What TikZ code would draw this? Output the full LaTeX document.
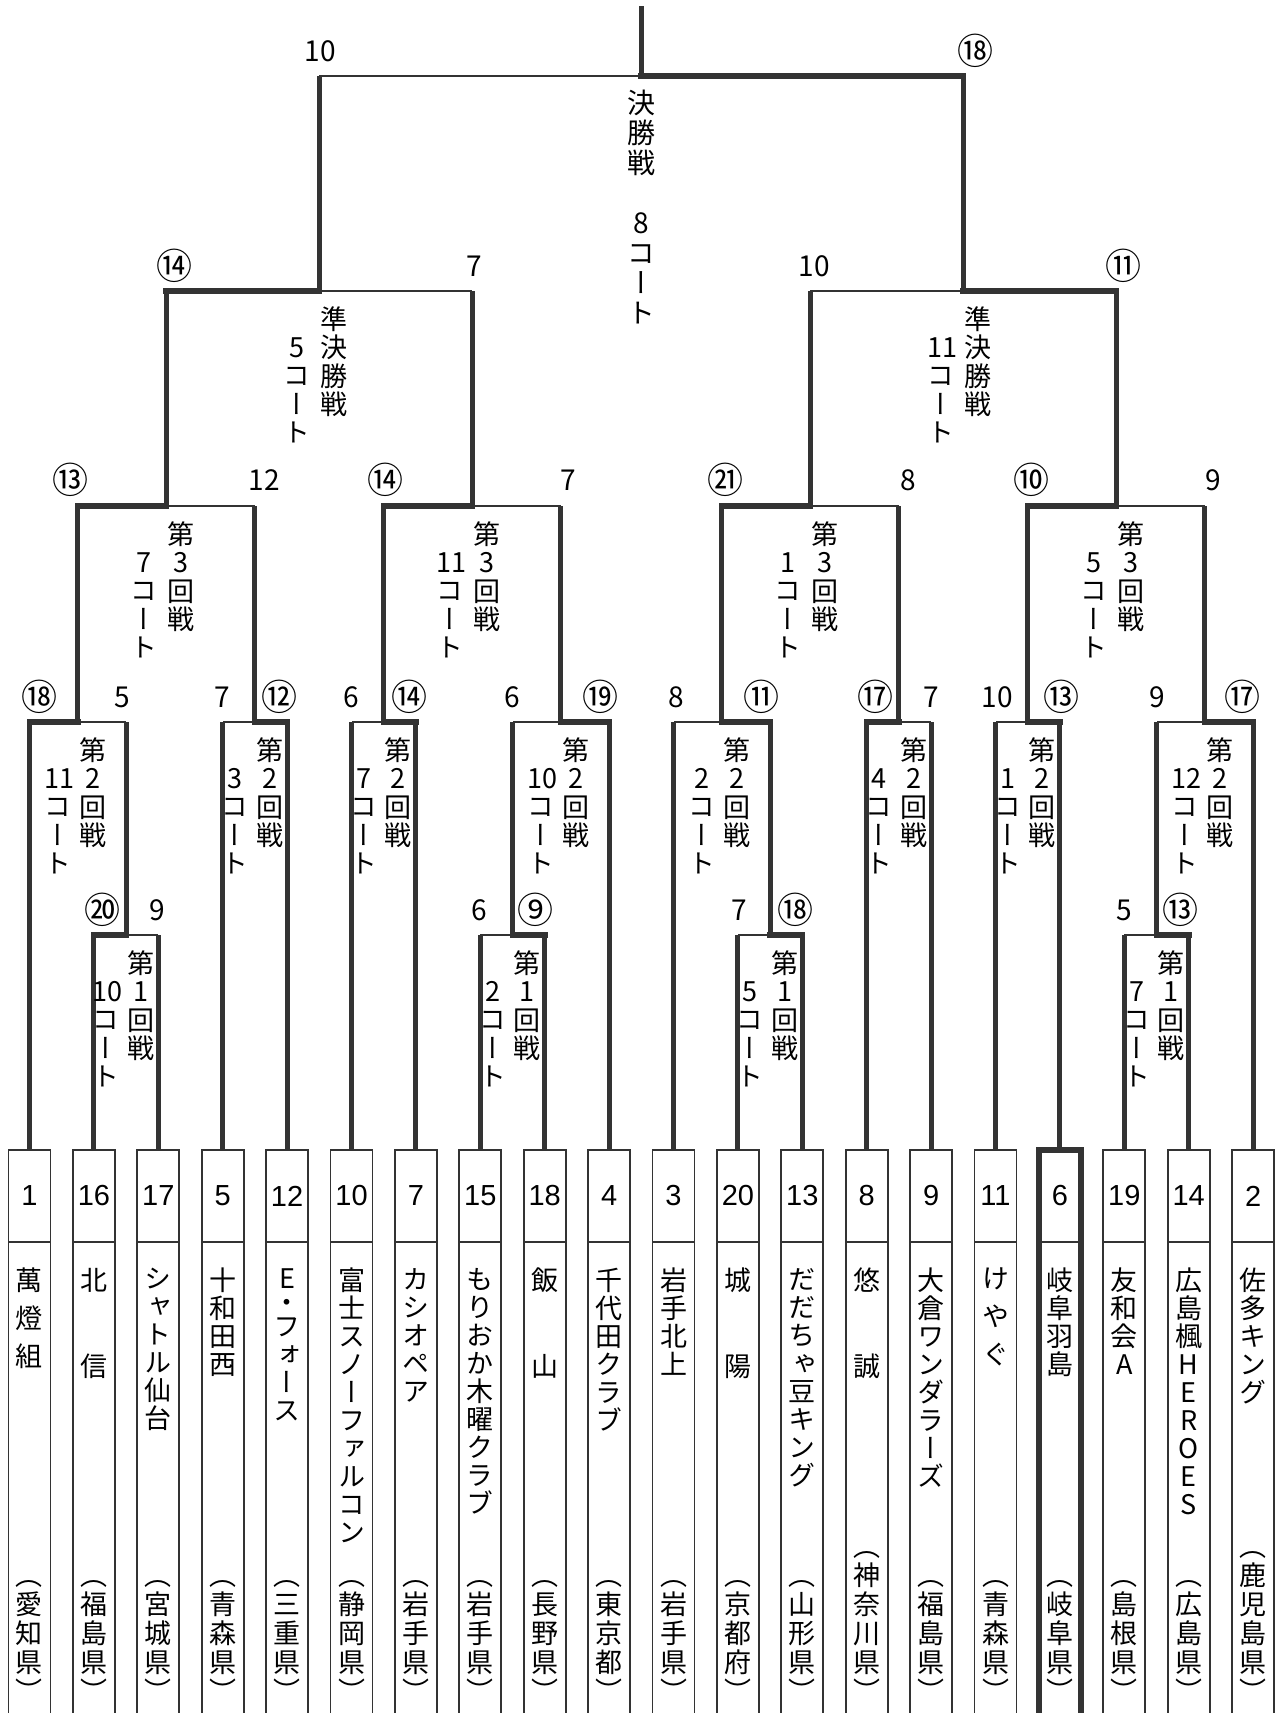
\documentclass[tikz,border=0pt]{standalone}
\usepackage{fontspec}
\usepackage{xcolor}
\usepackage{tikz}
\usetikzlibrary{positioning}

\newfontfamily\jpfont[Script=CJK,RawFeature=+vert]{Noto Sans CJK JP}
\newfontfamily\numfont{Liberation Sans}
\definecolor{ink}{HTML}{333333}

\begin{document}
\begin{tikzpicture}[
		x=1pt, y=-1pt,
		vbar/.style={draw=ink, line width=5pt},
		winbar/.style={draw=ink, line width=6pt, line cap=rect},
		losebar/.style={draw=ink, line width=2pt},
		numcell/.style={
			draw=ink,
			line width=1.8pt,
			outer sep=0pt,
			inner sep=0pt,
			anchor=north,
			minimum width=42pt,
			minimum height=92pt,
			font=\numfont\fontsize{29}{29}\selectfont
		},
		namecell/.style={
			draw=ink,
			line width=1.8pt,
			outer sep=0pt,
			inner sep=0pt,
			minimum width=42pt,
			minimum height=474pt
		},
		champ/.style={draw=ink, line width=6pt},
		teamname/.style={
			align=center,
			text width=30pt,
			inner sep=0pt,
			font=\jpfont\fontsize{27}{28}\selectfont
		},
		pref/.style={
			align=center,
			text width=30pt,
			inner sep=0pt,
			font=\jpfont\fontsize{27}{29}\selectfont
		},
		roundcol/.style={
			align=center,
			text width=27pt,
			inner sep=0pt,
			font=\jpfont\fontsize{27}{28.5}\selectfont
		},
		finalcol/.style={
			align=center,
			text width=30pt,
			inner sep=0pt,
			font=\jpfont\fontsize{28}{30}\selectfont
		},
		score/.style={inner sep=0pt, font=\jpfont\fontsize{28}{28}\selectfont},
		winscore/.style={inner sep=0pt, font=\jpfont\fontsize{36}{36}\selectfont}
		]
		
		\fill[white] (0,0) rectangle (1282,1713);
		\useasboundingbox (0,0) rectangle (1282,1713);
		
		% Team boxes: draw number
		\node[numcell] (num1) at (29.5,1150) {1};
		\node[numcell] (num2) at (93.9,1150) {16};
		\node[numcell] (num3) at (158.3,1150) {17};
		\node[numcell] (num4) at (222.7,1150) {5};
		\node[numcell] (num5) at (287.1,1150) {12};
		\node[numcell] (num6) at (351.5,1150) {10};
		\node[numcell] (num7) at (415.9,1150) {7};
		\node[numcell] (num8) at (480.3,1150) {15};
		\node[numcell] (num9) at (544.7,1150) {18};
		\node[numcell] (num10) at (609.1,1150) {4};
		\node[numcell] (num11) at (673.5,1150) {3};
		\node[numcell] (num12) at (737.9,1150) {20};
		\node[numcell] (num13) at (802.3,1150) {13};
		\node[numcell] (num14) at (866.7,1150) {8};
		\node[numcell] (num15) at (931.1,1150) {9};
		\node[numcell] (num16) at (995.5,1150) {11};
		\node[numcell] (num17) at (1059.9,1150) {6};
		\node[numcell] (num18) at (1124.3,1150) {19};
		\node[numcell] (num19) at (1188.7,1150) {14};
		\node[numcell] (num20) at (1253.1,1150) {2};
		
		% Team boxes: name part
		\node[namecell, below=0pt of num1] (cell1) {};
		\node[namecell, below=0pt of num2] (cell2) {};
		\node[namecell, below=0pt of num3] (cell3) {};
		\node[namecell, below=0pt of num4] (cell4) {};
		\node[namecell, below=0pt of num5] (cell5) {};
		\node[namecell, below=0pt of num6] (cell6) {};
		\node[namecell, below=0pt of num7] (cell7) {};
		\node[namecell, below=0pt of num8] (cell8) {};
		\node[namecell, below=0pt of num9] (cell9) {};
		\node[namecell, below=0pt of num10] (cell10) {};
		\node[namecell, below=0pt of num11] (cell11) {};
		\node[namecell, below=0pt of num12] (cell12) {};
		\node[namecell, below=0pt of num13] (cell13) {};
		\node[namecell, below=0pt of num14] (cell14) {};
		\node[namecell, below=0pt of num15] (cell15) {};
		\node[namecell, below=0pt of num16] (cell16) {};
		\node[namecell, below=0pt of num17] (cell17) {};
		\node[namecell, below=0pt of num18] (cell18) {};
		\node[namecell, below=0pt of num19] (cell19) {};
		\node[namecell, below=0pt of num20] (cell20) {};
		
		% Champion
		\draw[champ] (num17.north west) rectangle (cell17.south east);
		
		% Team names
		\node[teamname, below=26pt of num1] (name1) {萬\\[10pt]燈\\[10pt]組};
		\node[teamname, below=26pt of num2] (name2) {北\\[58pt]信};
		\node[teamname, below=26pt of num3] (name3) {シ\\ャ\\ト\\ル\\仙\\台};
		\node[teamname, below=26pt of num4] (name4) {十\\和\\田\\西};
		\node[teamname, below=26pt of num5] (name5) {E\\[-4pt]・\\[-4pt]フ\\ォ\\ー\\ス};
		\node[teamname, below=26pt of num6] (name6) {富\\士\\ス\\ノ\\ー\\フ\\ァ\\ル\\コ\\ン};
		\node[teamname, below=26pt of num7] (name7) {カ\\シ\\オ\\ペ\\ア};
		\node[teamname, below=26pt of num8] (name8) {も\\り\\お\\か\\木\\曜\\ク\\ラ\\ブ};
		\node[teamname, below=26pt of num9] (name9) {飯\\[58pt]山};
		\node[teamname, below=26pt of num10] (name10) {千\\代\\田\\ク\\ラ\\ブ};
		\node[teamname, below=26pt of num11] (name11) {岩\\手\\北\\上};
		\node[teamname, below=26pt of num12] (name12) {城\\[58pt]陽};
		\node[teamname, below=26pt of num13] (name13) {だ\\だ\\ち\\ゃ\\豆\\キ\\ン\\グ};
		\node[teamname, below=26pt of num14] (name14) {悠\\[58pt]誠};
		\node[teamname, below=26pt of num15] (name15) {大\\倉\\ワ\\ン\\ダ\\ラ\\ー\\ズ};
		\node[teamname, below=26pt of num16] (name16) {け\\[10pt]や\\[10pt]ぐ};
		\node[teamname, below=26pt of num17] (name17) {岐\\阜\\羽\\島};
		\node[teamname, below=26pt of num18] (name18) {友\\和\\会\\A};
		\node[teamname, below=26pt of num19] (name19) {広\\島\\楓\\H\\E\\R\\O\\E\\S};
		\node[teamname, below=26pt of num20] (name20) {佐\\多\\キ\\ン\\グ};
		
		% Prefectures
		\node[pref, above=14pt of cell1.south] (pref1) {（\\愛\\知\\県\\）};
		\node[pref, above=14pt of cell2.south] (pref2) {（\\福\\島\\県\\）};
		\node[pref, above=14pt of cell3.south] (pref3) {（\\宮\\城\\県\\）};
		\node[pref, above=14pt of cell4.south] (pref4) {（\\青\\森\\県\\）};
		\node[pref, above=14pt of cell5.south] (pref5) {（\\三\\重\\県\\）};
		\node[pref, above=14pt of cell6.south] (pref6) {（\\静\\岡\\県\\）};
		\node[pref, above=14pt of cell7.south] (pref7) {（\\岩\\手\\県\\）};
		\node[pref, above=14pt of cell8.south] (pref8) {（\\岩\\手\\県\\）};
		\node[pref, above=14pt of cell9.south] (pref9) {（\\長\\野\\県\\）};
		\node[pref, above=14pt of cell10.south] (pref10) {（\\東\\京\\都\\）};
		\node[pref, above=14pt of cell11.south] (pref11) {（\\岩\\手\\県\\）};
		\node[pref, above=14pt of cell12.south] (pref12) {（\\京\\都\\府\\）};
		\node[pref, above=14pt of cell13.south] (pref13) {（\\山\\形\\県\\）};
		\node[pref, above=14pt of cell14.south] (pref14) {（\\神\\奈\\川\\県\\）};
		\node[pref, above=14pt of cell15.south] (pref15) {（\\福\\島\\県\\）};
		\node[pref, above=14pt of cell16.south] (pref16) {（\\青\\森\\県\\）};
		\node[pref, above=14pt of cell17.south] (pref17) {（\\岐\\阜\\県\\）};
		\node[pref, above=14pt of cell18.south] (pref18) {（\\島\\根\\県\\）};
		\node[pref, above=14pt of cell19.south] (pref19) {（\\広\\島\\県\\）};
		\node[pref, above=14pt of cell20.south] (pref20) {（\\鹿\\児\\島\\県\\）};
		
		% Match points
		\coordinate (p1) at (126.1,935);
		\coordinate (p2) at (512.5,935);
		\coordinate (p3) at (770.1,935);
		\coordinate (p4) at (1156.5,935);
		\coordinate (s1) at (77.8,722);
		\coordinate (s2) at (254.9,722);
		\coordinate (s3) at (383.7,722);
		\coordinate (s4) at (560.8,722);
		\coordinate (s5) at (721.8,722);
		\coordinate (s6) at (898.9,722);
		\coordinate (s7) at (1027.7,722);
		\coordinate (s8) at (1204.8,722);
		\coordinate (q1) at (166.35,506);
		\coordinate (q2) at (472.25,506);
		\coordinate (q3) at (810.35,506);
		\coordinate (q4) at (1116.25,506);
		\coordinate (sl) at (319.3,291);
		\coordinate (sr) at (963.3,291);
		\coordinate (f) at (641.3,76);
		\coordinate (top) at (641.3,6);
		
		% First round
		\draw[losebar] (p1) -- (num3 |- p1);
		\draw[vbar] (num2) -- (num2 |- p1);
		\draw[vbar] (num3) -- (num3 |- p1);
		\draw[winbar] (p1) -- (num2 |- p1);
		
		\draw[losebar] (p2) -- (num8 |- p2);
		\draw[vbar] (num8) -- (num8 |- p2);
		\draw[vbar] (num9) -- (num9 |- p2);
		\draw[winbar] (p2) -- (num9 |- p2);
		
		\draw[losebar] (p3) -- (num12 |- p3);
		\draw[vbar] (num12) -- (num12 |- p3);
		\draw[vbar] (num13) -- (num13 |- p3);
		\draw[winbar] (p3) -- (num13 |- p3);
		
		\draw[losebar] (p4) -- (num18 |- p4);
		\draw[vbar] (num18) -- (num18 |- p4);
		\draw[vbar] (num19) -- (num19 |- p4);
		\draw[winbar] (p4) -- (num19 |- p4);
		
		% Second round
		\draw[losebar] (s1) -- (p1 |- s1);
		\draw[vbar] (num1) -- (num1 |- s1);
		\draw[vbar] (p1) -- (p1 |- s1);
		\draw[winbar] (s1) -- (num1 |- s1);
		
		\draw[losebar] (s2) -- (num4 |- s2);
		\draw[vbar] (num4) -- (num4 |- s2);
		\draw[vbar] (num5) -- (num5 |- s2);
		\draw[winbar] (s2) -- (num5 |- s2);
		
		\draw[losebar] (s3) -- (num6 |- s3);
		\draw[vbar] (num6) -- (num6 |- s3);
		\draw[vbar] (num7) -- (num7 |- s3);
		\draw[winbar] (s3) -- (num7 |- s3);
		
		\draw[losebar] (s4) -- (p2 |- s4);
		\draw[vbar] (p2) -- (p2 |- s4);
		\draw[vbar] (num10) -- (num10 |- s4);
		\draw[winbar] (s4) -- (num10 |- s4);
		
		\draw[losebar] (s5) -- (num11 |- s5);
		\draw[vbar] (num11) -- (num11 |- s5);
		\draw[vbar] (p3) -- (p3 |- s5);
		\draw[winbar] (s5) -- (p3 |- s5);
		
		\draw[losebar] (s6) -- (num15 |- s6);
		\draw[vbar] (num14) -- (num14 |- s6);
		\draw[vbar] (num15) -- (num15 |- s6);
		\draw[winbar] (s6) -- (num14 |- s6);
		
		\draw[losebar] (s7) -- (num16 |- s7);
		\draw[vbar] (num16) -- (num16 |- s7);
		\draw[vbar] (num17) -- (num17 |- s7);
		\draw[winbar] (s7) -- (num17 |- s7);
		
		\draw[losebar] (s8) -- (p4 |- s8);
		\draw[vbar] (p4) -- (p4 |- s8);
		\draw[vbar] (num20) -- (num20 |- s8);
		\draw[winbar] (s8) -- (num20 |- s8);
		
		% Third round
		\draw[losebar] (q1) -- (s2 |- q1);
		\draw[vbar] (s1) -- (s1 |- q1);
		\draw[vbar] (s2) -- (s2 |- q1);
		\draw[winbar] (q1) -- (s1 |- q1);
		
		\draw[losebar] (q2) -- (s4 |- q2);
		\draw[vbar] (s3) -- (s3 |- q2);
		\draw[vbar] (s4) -- (s4 |- q2);
		\draw[winbar] (q2) -- (s3 |- q2);
		
		\draw[losebar] (q3) -- (s6 |- q3);
		\draw[vbar] (s5) -- (s5 |- q3);
		\draw[vbar] (s6) -- (s6 |- q3);
		\draw[winbar] (q3) -- (s5 |- q3);
		
		\draw[losebar] (q4) -- (s8 |- q4);
		\draw[vbar] (s7) -- (s7 |- q4);
		\draw[vbar] (s8) -- (s8 |- q4);
		\draw[winbar] (q4) -- (s7 |- q4);
		
		% Semifinals
		\draw[losebar] (sl) -- (q2 |- sl);
		\draw[vbar] (q1) -- (q1 |- sl);
		\draw[vbar] (q2) -- (q2 |- sl);
		\draw[winbar] (sl) -- (q1 |- sl);
		
		\draw[losebar] (sr) -- (q3 |- sr);
		\draw[vbar] (q3) -- (q3 |- sr);
		\draw[vbar] (q4) -- (q4 |- sr);
		\draw[winbar] (sr) -- (q4 |- sr);
		
		% Final
		\draw[losebar] (f) -- (sl |- f);
		\draw[vbar] (sl) -- (sl |- f);
		\draw[vbar] (sr) -- (sr |- f);
		\draw[winbar] (f) -- (sr |- f);
		\draw[vbar] (f) -- (top);
		
		% Round and court labels
		\node[finalcol, below=14pt of f] (flabel) {決\\勝\\戦\\[30pt]8\\コ\\ー\\ト};
		
		\node[roundcol, below right=15pt and 1pt of sl] (slr) {準\\決\\勝\\戦};
		\node[roundcol, below left=43pt and 9pt of sl] (sll) {\vphantom{第}5\\コ\\ー\\ト};
		\node[roundcol, below right=15pt and 1pt of sr] (srr) {準\\決\\勝\\戦};
		\node[roundcol, below left=43pt and 9pt of sr] (srl) {\vphantom{第}11\\コ\\ー\\ト};
		
		\node[roundcol, below right=15pt and 1pt of q1] (q1r) {第\\3\\回\\戦};
		\node[roundcol, below left=43pt and 9pt of q1] (q1l) {\vphantom{第}7\\コ\\ー\\ト};
		\node[roundcol, below right=15pt and 1pt of q2] (q2r) {第\\3\\回\\戦};
		\node[roundcol, below left=43pt and 9pt of q2] (q2l) {\vphantom{第}11\\コ\\ー\\ト};
		\node[roundcol, below right=15pt and 1pt of q3] (q3r) {第\\3\\回\\戦};
		\node[roundcol, below left=43pt and 9pt of q3] (q3l) {\vphantom{第}1\\コ\\ー\\ト};
		\node[roundcol, below right=15pt and 1pt of q4] (q4r) {第\\3\\回\\戦};
		\node[roundcol, below left=43pt and 9pt of q4] (q4l) {\vphantom{第}5\\コ\\ー\\ト};
		
		\node[roundcol, below right=15pt and 1pt of s1] (s1r) {第\\2\\回\\戦};
		\node[roundcol, below left=43pt and 6pt of s1] (s1l) {\vphantom{第}11\\コ\\ー\\ト};
		\node[roundcol, below right=15pt and 1pt of s2] (s2r) {第\\2\\回\\戦};
		\node[roundcol, below left=43pt and 6pt of s2] (s2l) {\vphantom{第}3\\コ\\ー\\ト};
		\node[roundcol, below right=15pt and 1pt of s3] (s3r) {第\\2\\回\\戦};
		\node[roundcol, below left=43pt and 6pt of s3] (s3l) {\vphantom{第}7\\コ\\ー\\ト};
		\node[roundcol, below right=15pt and 1pt of s4] (s4r) {第\\2\\回\\戦};
		\node[roundcol, below left=43pt and 6pt of s4] (s4l) {\vphantom{第}10\\コ\\ー\\ト};
		\node[roundcol, below right=15pt and 1pt of s5] (s5r) {第\\2\\回\\戦};
		\node[roundcol, below left=43pt and 6pt of s5] (s5l) {\vphantom{第}2\\コ\\ー\\ト};
		\node[roundcol, below right=15pt and 1pt of s6] (s6r) {第\\2\\回\\戦};
		\node[roundcol, below left=43pt and 6pt of s6] (s6l) {\vphantom{第}4\\コ\\ー\\ト};
		\node[roundcol, below right=15pt and 1pt of s7] (s7r) {第\\2\\回\\戦};
		\node[roundcol, below left=43pt and 6pt of s7] (s7l) {\vphantom{第}1\\コ\\ー\\ト};
		\node[roundcol, below right=15pt and 1pt of s8] (s8r) {第\\2\\回\\戦};
		\node[roundcol, below left=43pt and 6pt of s8] (s8l) {\vphantom{第}12\\コ\\ー\\ト};
		
		\node[roundcol, below right=15pt and 1pt of p1] (p1r) {第\\1\\回\\戦};
		\node[roundcol, below left=43pt and 6pt of p1] (p1l) {\vphantom{第}10\\コ\\ー\\ト};
		\node[roundcol, below right=15pt and 1pt of p2] (p2r) {第\\1\\回\\戦};
		\node[roundcol, below left=43pt and 6pt of p2] (p2l) {\vphantom{第}2\\コ\\ー\\ト};
		\node[roundcol, below right=15pt and 1pt of p3] (p3r) {第\\1\\回\\戦};
		\node[roundcol, below left=43pt and 6pt of p3] (p3l) {\vphantom{第}5\\コ\\ー\\ト};
		\node[roundcol, below right=15pt and 1pt of p4] (p4r) {第\\1\\回\\戦};
		\node[roundcol, below left=43pt and 6pt of p4] (p4l) {\vphantom{第}7\\コ\\ー\\ト};
		
		% Scores
		\node[score] (fls) at (320,51) {10};
		\node[winscore] (frs) at (975,51) {⑱};
		\node[winscore] (slls) at (174,266) {⑭};
		\node[score] (slrs) at (474,266) {7};
		\node[score] (srls) at (814,266) {10};
		\node[winscore] (srrs) at (1123,266) {⑪};
		\node[winscore] (q1ls) at (70,480) {⑬};
		\node[score] (q1rs) at (264,480) {12};
		\node[winscore] (q2ls) at (385,480) {⑭};
		\node[score] (q2rs) at (568,480) {7};
		\node[winscore] (q3ls) at (725,480) {㉑};
		\node[score] (q3rs) at (908,480) {8};
		\node[winscore] (q4ls) at (1031,480) {⑩};
		\node[score] (q4rs) at (1213,480) {9};
		\node[winscore] (s1ls) at (39,697) {⑱};
		\node[score] (s1rs) at (122,697) {5};
		\node[score] (s2ls) at (222,697) {7};
		\node[winscore] (s2rs) at (279,697) {⑫};
		\node[score] (s3ls) at (351,697) {6};
		\node[winscore] (s3rs) at (409,697) {⑭};
		\node[score] (s4ls) at (512,697) {6};
		\node[winscore] (s4rs) at (600,697) {⑲};
		\node[score] (s5ls) at (676,697) {8};
		\node[winscore] (s5rs) at (761,697) {⑪};
		\node[winscore] (s6ls) at (875,697) {⑰};
		\node[score] (s6rs) at (931,697) {7};
		\node[score] (s7ls) at (997,697) {10};
		\node[winscore] (s7rs) at (1061,697) {⑬};
		\node[score] (s8ls) at (1157,697) {9};
		\node[winscore] (s8rs) at (1242,697) {⑰};
		\node[winscore] (p1ls) at (102,910) {⑳};
		\node[score] (p1rs) at (157,910) {9};
		\node[score] (p2ls) at (479,910) {6};
		\node[winscore] (p2rs) at (535,910) {⑨};
		\node[score] (p3ls) at (739,910) {7};
		\node[winscore] (p3rs) at (795,910) {⑱};
		\node[score] (p4ls) at (1124,910) {5};
		\node[winscore] (p4rs) at (1180,910) {⑬};
		
	\end{tikzpicture}
\end{document}
